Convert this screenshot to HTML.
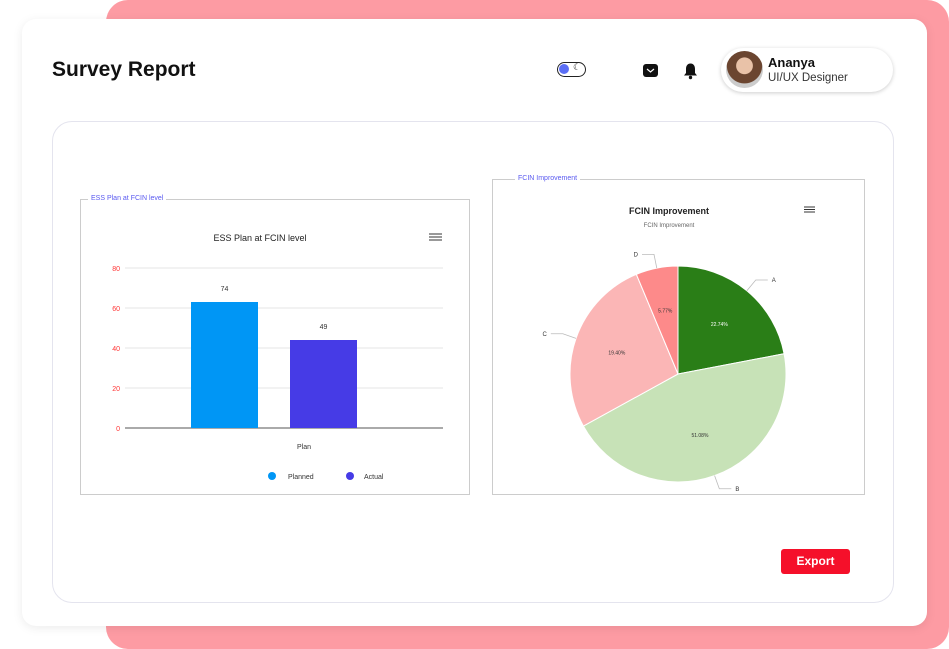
<!DOCTYPE html>
<html><head><meta charset="utf-8"><style>
body{margin:0;width:949px;height:649px;overflow:hidden;background:#fff;font-family:"Liberation Sans",sans-serif;position:relative}
.abs{position:absolute}
</style></head><body>
<div class="abs" style="left:106px;top:0;width:843px;height:649px;background:#fd9ba3;border-radius:22px"></div>
<div class="abs" style="left:22px;top:19px;width:905px;height:607px;background:#fff;border-radius:14px;box-shadow:0 2px 10px rgba(0,0,0,0.08)"></div>
<div class="abs" style="left:52px;top:58px;font-size:21px;font-weight:bold;color:#111">Survey Report</div>
<div class="abs" style="left:557px;top:62px;width:29px;height:15px;border:1.5px solid #222;border-radius:9px;box-sizing:border-box">
<div style="position:absolute;left:1px;top:1px;width:10px;height:10px;border-radius:50%;background:#5b6ef5"></div>
<div style="position:absolute;left:15px;top:-1px;font-size:9px;color:#222">☾</div></div>
<svg class="abs" style="left:643px;top:64px" width="15" height="13"><rect x="0" y="0" width="15" height="13" rx="3" fill="#111"/><polyline points="4,5 7.5,8 11,5" fill="none" stroke="#fff" stroke-width="1.2"/></svg>
<svg class="abs" style="left:683px;top:62px" width="15" height="18"><path d="M7.5 1.5 C4 1.5 3 4.5 3 7 L3 11 L1 13.5 L14 13.5 L12 11 L12 7 C12 4.5 11 1.5 7.5 1.5Z" fill="#111"/><circle cx="7.5" cy="15.5" r="1.7" fill="#111"/></svg>
<div class="abs" style="left:721px;top:48px;width:172px;height:44px;border-radius:24px;background:#fff;box-shadow:0 1px 4px rgba(0,0,0,0.2)">
<div style="position:absolute;left:5px;top:3px;width:37px;height:37px;border-radius:50%;background:radial-gradient(circle at 50% 40%,#e9c2a8 0 28%,#6b4530 30% 60%,#ccc 62%)"></div>
<div style="position:absolute;left:47px;top:7px;font-size:13px;font-weight:bold;color:#111">Ananya</div>
<div style="position:absolute;left:47px;top:24px;font-size:11.5px;color:#333">UI/UX Designer</div></div>
<div class="abs" style="left:52px;top:121px;width:842px;height:482px;border:1px solid #e4e4ee;border-radius:20px;box-sizing:border-box"></div>

<div class="abs" style="left:80px;top:199px;width:390px;height:296px;border:1px solid #ccc;box-sizing:border-box"></div>
<div class="abs" style="left:88px;top:195px;background:#fff;padding:0 3px;font-size:7px;color:#5a5af0">ESS Plan at FCIN level</div>
<div class="abs" style="left:492px;top:179px;width:373px;height:316px;border:1px solid #ccc;box-sizing:border-box"></div>
<div class="abs" style="left:515px;top:175px;background:#fff;padding:0 3px;font-size:7px;color:#5a5af0">FCIN Improvement</div>

<svg class="abs" style="left:0;top:0" width="949" height="649" id="charts">
<text x="260" y="241" font-size="9" text-anchor="middle" fill="#222">ESS Plan at FCIN level</text>
<g stroke="#333" stroke-width="1"><line x1="429" y1="234" x2="442" y2="234"/><line x1="429" y1="237" x2="442" y2="237"/><line x1="429" y1="240" x2="442" y2="240"/></g>
<g id="bars"></g>
<text x="304" y="449" font-size="7" text-anchor="middle" fill="#333">Plan</text>
<circle cx="272" cy="476" r="4" fill="#0096f5"/>
<text x="288" y="479" font-size="7" fill="#333">Planned</text>
<circle cx="350" cy="476" r="4" fill="#463be6"/>
<text x="364" y="479" font-size="7" fill="#333">Actual</text>

<text x="669" y="214" font-size="9" font-weight="bold" text-anchor="middle" fill="#222">FCIN Improvement</text>
<text x="669" y="227" font-size="6" text-anchor="middle" fill="#666">FCIN Improvement</text>
<g stroke="#333" stroke-width="1"><line x1="804" y1="207" x2="815" y2="207"/><line x1="804" y1="209.5" x2="815" y2="209.5"/><line x1="804" y1="212" x2="815" y2="212"/></g>
<g id="pie"></g>
</svg>

<div class="abs" style="left:781px;top:549px;width:69px;height:25px;background:#f5102a;border-radius:3px;color:#fff;font-size:12px;font-weight:bold;text-align:center;line-height:25px">Export</div>

<script>
const barCategories=["Planned","Actual"];
const barValues=[63,44];
const barLabels=["74","49"];
const barColors=["#0096f5","#463be6"];
const yTicks=[0,20,40,60,80];
const pieCategories=["A","B","C","D"];
const pieValues=[22,45,26.7,6.3];
const pieLabels=["22.74%","51.08%","19.40%","5.77%"];
const pieColors=["#2a7e17","#c7e2b7","#fbb6b6","#fd8a8a"];

const NS="http://www.w3.org/2000/svg";
function mk(t,a,p){const e=document.createElementNS(NS,t);for(const k in a)e.setAttribute(k,a[k]);p.appendChild(e);return e;}
const y0=428,yMax=80,yPix=160;
function ys(v){return y0-v/yMax*yPix;}
const bg=document.getElementById('bars');
yTicks.forEach(t=>{
 const l=mk('line',{x1:125,x2:443,y1:ys(t),y2:ys(t),stroke:t===0?'#aaa':'#e6e6e6','stroke-width':t===0?2:1},bg);
 
 
 const tx=mk('text',{x:120,y:ys(t)+3,'font-size':7,'text-anchor':'end',fill:'#f33'},bg);
 tx.textContent=t;
 
 
});
const bw=67,bx0=191,gap=99;
barValues.forEach((v,i)=>{
 const x=bx0+i*gap;
 const r=mk('rect',{x:x,y:ys(v),width:bw,height:y0-ys(v),fill:barColors[i]},bg);
 
 
 const t=mk('text',{x:x+bw/2,y:ys(v)-11,'font-size':7,'text-anchor':'middle',fill:'#333'},bg);
 t.textContent=barLabels[i];
 
 
});
const pg=document.getElementById('pie');
const cx=678,cy=374,R=108;
const tot=pieValues.reduce((a,b)=>a+b,0);
let a0=0;
function pt(a,r){return [cx+r*Math.sin(a),cy-r*Math.cos(a)];}
pieValues.forEach((v,i)=>{
 const a1=a0+v/tot*2*Math.PI;
 const p0=pt(a0,R),p1=pt(a1,R);
 const large=(a1-a0)>Math.PI?1:0;
 const s=mk('path',{d:`M${cx},${cy}L${p0[0]},${p0[1]}A${R},${R} 0 ${large} 1 ${p1[0]},${p1[1]}Z`,fill:pieColors[i],stroke:'#fff','stroke-width':1},pg);
 
 
 const am=(a0+a1)/2;
 const lp=pt(am,R*0.6);
 const t=mk('text',{x:lp[0],y:lp[1]+2,'font-size':5,'text-anchor':'middle',fill:i===0?'#fff':'#333'},pg);
 t.textContent=pieLabels[i];
 
 
 const e1=pt(am,R),e2=pt(am,R+14);
 const right=Math.sin(am)>=0;
 const e3=[e2[0]+(right?12:-12),e2[1]];
 const ln=mk('polyline',{points:`${e1[0]},${e1[1]} ${e2[0]},${e2[1]} ${e3[0]},${e3[1]}`,fill:'none',stroke:'#bbb','stroke-width':0.8},pg);
 
 
 const ct=mk('text',{x:e3[0]+(right?4:-4),y:e3[1]+2,'font-size':6,'text-anchor':right?'start':'end',fill:'#333'},pg);
 ct.textContent=pieCategories[i];
 
 
 a0=a1;
});
</script>
</body></html>
